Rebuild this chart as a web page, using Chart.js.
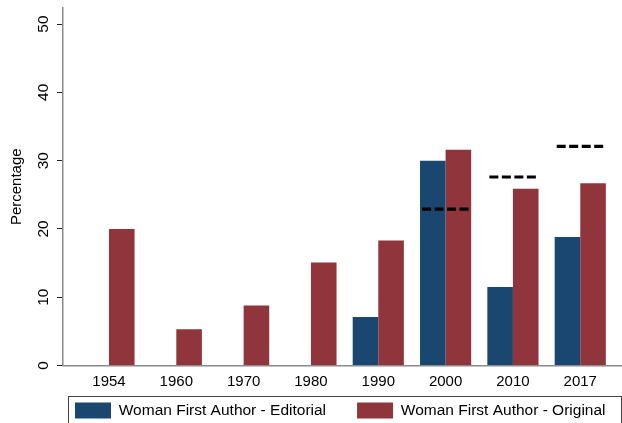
<!DOCTYPE html>
<html>
<head>
<meta charset="utf-8">
<script src="https://cdn.jsdelivr.net/npm/chart.js@4.4.1/dist/chart.umd.min.js"></script>
<style>
    html, body { margin: 0; padding: 0; background: #fff; }
    canvas { display: block; }
</style>
</head>
<body>
<canvas id="chart" width="622" height="423"></canvas>
<script>
const years = ['1954', '1960', '1970', '1980', '1990', '2000', '2010', '2017']
const editorial = [null, null, null, null, 7.1, 30.0, 11.5, 18.8]
const original = [20.0, 5.3, 8.8, 15.1, 18.3, 31.6, 25.9, 26.7]
const reference = [null, null, null, null, null, 22.9, 27.6, 32.1]
const yTicks = [0, 10, 20, 30, 40, 50]

const navy = '#1a476f'
const maroon = '#90353b'
const axisGray = '#8a8a8a'
const fontFamily = '"Liberation Sans", Arial, Helvetica, sans-serif'

Chart.defaults.font.family = fontFamily
Chart.defaults.color = '#000'

// dashed reference marks span the width of each pair of bars
const refHalf = 0.35
const refPoints = []
reference.forEach((v, i) => {
    if (v === null) return
    refPoints.push({ x: i - refHalf, y: v }, { x: i + refHalf, y: v }, { x: i + 0.5, y: null })
})

const toPoints = (values) => values.map((v, i) => ({ x: i, y: v }))

// legend sits in a bordered box under the axis, items start at the left
const legendGap = 31
const legendItemX = 75
const legendItemY = 402.5
const legendFrame = { left: 68.5, top: 396.5, right: 621.5 }

const legendPlacement = {
    id: 'legendPlacement',
    afterLayout(chart) {
        const legend = chart.legend
        if (!legend) {
            return
        }
        legend.left = legendItemX - legendGap
        legend.right = legend.left + 700
        legend.top = legendItemY - legendGap
        legend.bottom = legend.top + 120
    },
    afterDraw(chart) {
        const ctx = chart.ctx
        ctx.save()
        ctx.strokeStyle = '#444'
        ctx.lineWidth = 1
        ctx.strokeRect(legendFrame.left, legendFrame.top, legendFrame.right - legendFrame.left, 60)
        ctx.restore()
    },
}

const noEdgePadding = (scale) => {
    scale.paddingTop = 0
    scale.paddingBottom = 0
    scale.paddingLeft = 0
    scale.paddingRight = 0
}

new Chart(document.getElementById('chart'), {
    data: {
        datasets: [
            {
                type: 'line',
                label: 'Reference',
                data: refPoints,
                borderColor: '#000',
                borderWidth: 3.2,
                borderDash: [9, 3.5],
                pointRadius: 0,
                spanGaps: false,
                fill: false,
            },
            {
                type: 'bar',
                label: 'Woman First Author - Editorial',
                data: toPoints(editorial),
                backgroundColor: navy,
                borderWidth: 0,
                categoryPercentage: 0.76,
                barPercentage: 1,
            },
            {
                type: 'bar',
                label: 'Woman First Author - Original',
                data: toPoints(original),
                backgroundColor: maroon,
                borderWidth: 0,
                categoryPercentage: 0.76,
                barPercentage: 1,
            },
        ],
    },
    options: {
        responsive: false,
        animation: false,
        layout: { padding: { top: 8, right: 0, bottom: 0, left: 0 } },
        scales: {
            x: {
                type: 'linear',
                offset: false,
                min: -0.683,
                max: 7.62,
                afterBuildTicks: (scale) => {
                    scale.ticks = years.map((_, i) => ({ value: i }))
                },
                afterFit: (scale) => {
                    scale.height = 30
                    noEdgePadding(scale)
                },
                grid: { display: false, drawTicks: false },
                border: { color: axisGray, width: 1.5 },
                ticks: {
                    callback: (v) => years[v],
                    autoSkip: false,
                    maxRotation: 0,
                    padding: 7,
                    font: { size: 15 },
                    color: '#000',
                },
            },
            y: {
                min: 0,
                max: 52.35,
                afterBuildTicks: (scale) => {
                    scale.ticks = yTicks.map((v) => ({ value: v }))
                },
                afterFit: (scale) => {
                    scale.width = 63
                    noEdgePadding(scale)
                },
                grid: { drawOnChartArea: false, tickLength: 6, tickColor: '#222', tickWidth: 1 },
                border: { color: axisGray, width: 1.5 },
                ticks: {
                    minRotation: 90,
                    maxRotation: 90,
                    crossAlign: 'center',
                    padding: 5,
                    font: { size: 15.5 },
                    color: '#000',
                },
                title: {
                    display: true,
                    text: 'Percentage',
                    font: { size: 15 },
                    color: '#000',
                    padding: { top: 7.5, bottom: 0 },
                },
            },
        },
        plugins: {
            tooltip: { enabled: false },
            legend: {
                position: 'bottom',
                align: 'start',
                maxHeight: 27.5,
                labels: {
                    boxWidth: 36,
                    boxHeight: 16,
                    padding: legendGap,
                    font: { size: 15.5 },
                    color: '#000',
                    filter: (item) => item.text !== 'Reference',
                },
            },
        },
    },
    plugins: [legendPlacement],
})
</script>
</body>
</html>
